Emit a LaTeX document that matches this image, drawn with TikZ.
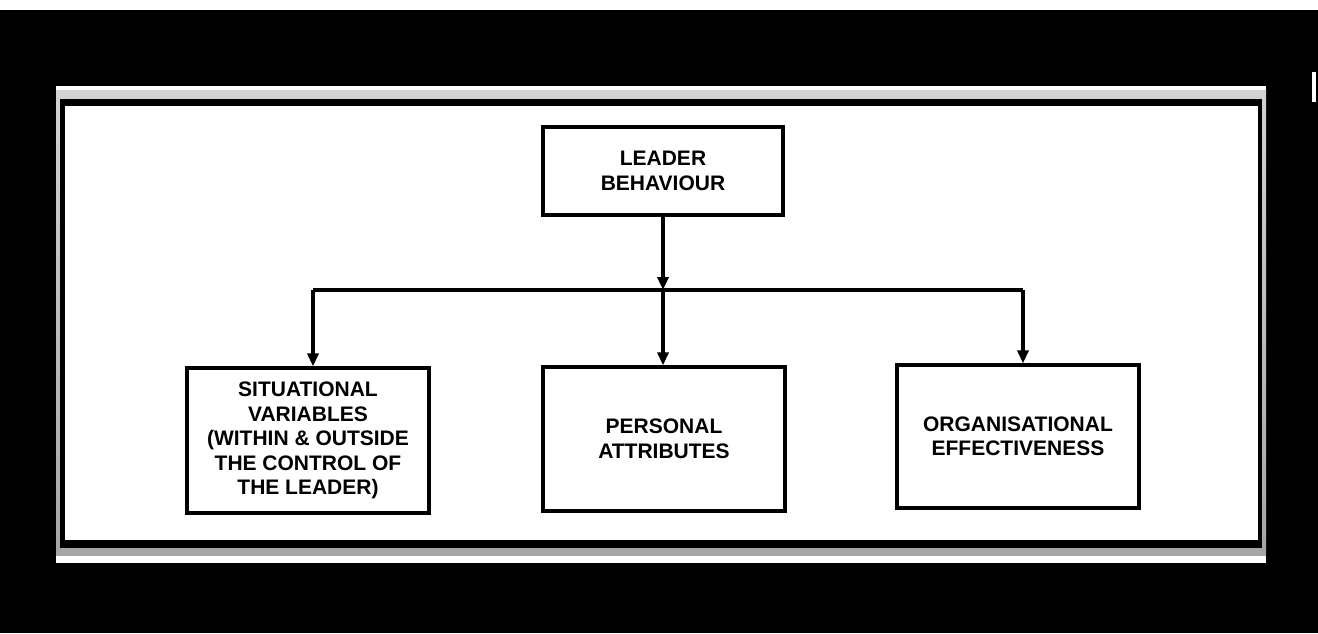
\documentclass[tikz,border=0pt]{standalone}
\usepackage{fontspec}
\setmainfont{Liberation Sans}
\usetikzlibrary{arrows.meta}
\begin{document}
\begin{tikzpicture}[x=1pt,y=-1pt,
  box/.style={draw=black,line width=3.2pt,fill=white,inner sep=0pt,
    align=center,font=\fontsize{21}{24.5}\selectfont\bfseries},
  conn/.style={line width=3.2pt,-{Triangle[length=13pt,width=11pt]}},
  plainline/.style={line width=3.2pt}]
\useasboundingbox (0,0) rectangle (1318,633);
% page background
\fill[black] (0,0) rectangle (1318,633);
% light strip along the top edge
\fill[white] (0,0) rectangle (1318,10);
\fill[white] (1312,72) rectangle (1316,102);
% framed panel
\fill[white] (56,86) rectangle (1266,563);
\shade[top color=gray!35,bottom color=gray!70] (56,90) rectangle (1266,555);
\fill[black] (60,99) rectangle (1262,548);
\fill[white] (65,106) rectangle (1258,540);

% boxes
\node[box,minimum width=240pt,minimum height=88pt] (lb) at (663,171)
  {LEADER\\BEHAVIOUR};
\node[box,minimum width=242pt,minimum height=145pt] (sv) at (308,440.5)
  {SITUATIONAL\\VARIABLES\\(WITHIN \& OUTSIDE\\THE CONTROL OF\\THE LEADER)};
\node[box,minimum width=242pt,minimum height=144pt] (pa) at (664,439)
  {PERSONAL\\ATTRIBUTES};
\node[box,minimum width=242pt,minimum height=143pt] (oe) at (1018,436.5)
  {ORGANISATIONAL\\EFFECTIVENESS};

% connectors
\coordinate (j) at (663,290);
\coordinate (jl) at (313,290);
\coordinate (jr) at (1023,290);
\draw[conn] (lb.south -| j) -- (j);
\draw[conn] (j) -- (j |- pa.north);
\draw[plainline] (jl) -- (jr);
\draw[conn] (jl) -- (jl |- sv.north);
\draw[conn] (jr) -- (jr |- oe.north);
\end{tikzpicture}
\end{document}
